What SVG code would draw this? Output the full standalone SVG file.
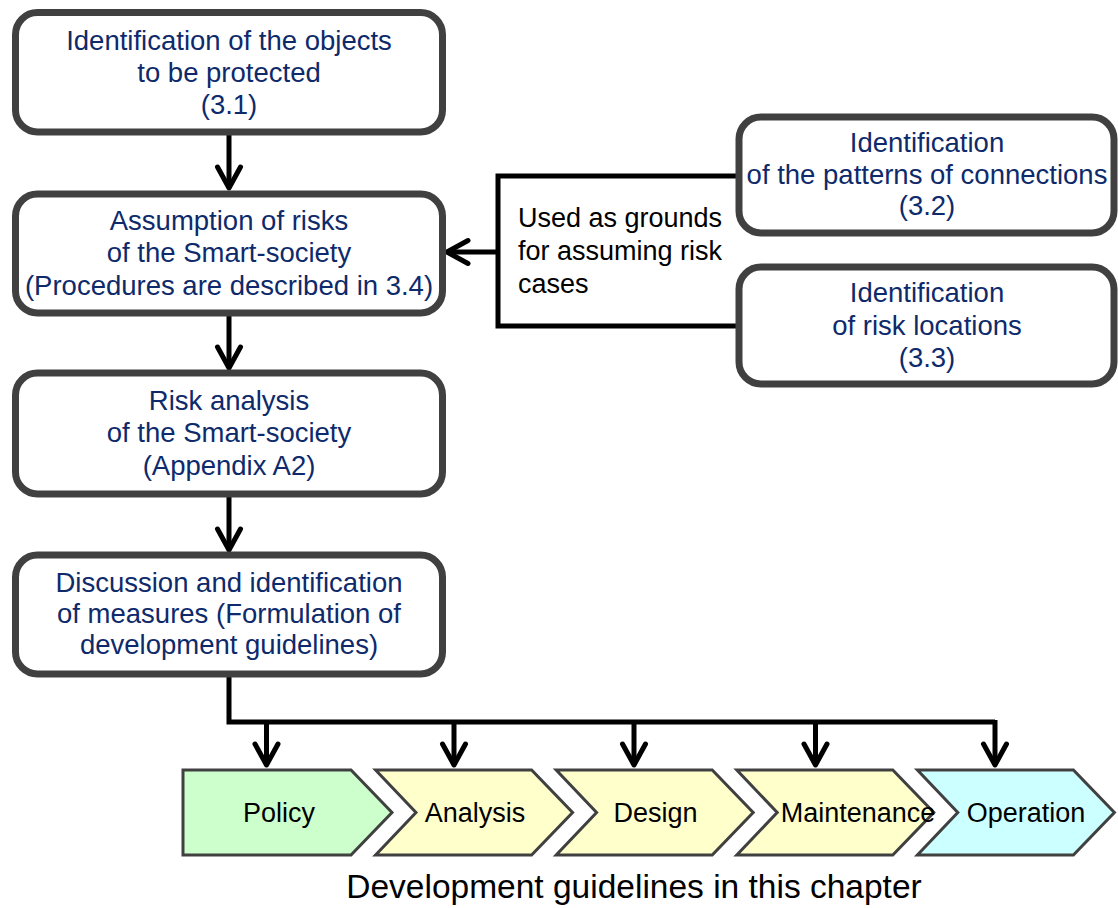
<svg xmlns="http://www.w3.org/2000/svg" width="1118" height="908" viewBox="0 0 1118 908">
<style>
.box{fill:#fff;stroke:#404040;stroke-width:7}
.t{font-family:"Liberation Sans",Arial,sans-serif;font-size:27.5px;fill:#0e2a6b;text-anchor:middle}
.lbl{font-family:"Liberation Sans",Arial,sans-serif;font-size:27px;fill:#000}
.ct{font-family:"Liberation Sans",Arial,sans-serif;font-size:27px;fill:#000;text-anchor:middle}
.cap{font-family:"Liberation Sans",Arial,sans-serif;font-size:33.5px;fill:#000;text-anchor:middle}
.chev{stroke:#404040;stroke-width:3}
.ln{fill:none;stroke:#000;stroke-width:5}
.ar{fill:none;stroke:#000;stroke-width:5;marker-end:url(#ah)}
</style>
<defs>
<marker id="ah" viewBox="0 0 28 28" refX="24" refY="14" markerWidth="28" markerHeight="28" markerUnits="userSpaceOnUse" orient="auto" overflow="visible">
<path d="M3 2.5 L24 14 L3 25.5" fill="none" stroke="#000" stroke-width="5" stroke-linejoin="round" stroke-linecap="round"/>
</marker>
</defs>
<rect width="1118" height="908" fill="#fff"/>
<g id="connectors">
<line class="ar" x1="229" y1="135" x2="229" y2="188"/>
<line class="ar" x1="229" y1="316" x2="229" y2="368"/>
<line class="ar" x1="229" y1="497" x2="229" y2="550"/>
<polyline class="ln" points="739,176 498,176 498,326 739,326"/>
<line class="ar" x1="498" y1="252" x2="447" y2="252"/>
<polyline class="ln" points="229,674 229,722 995,722"/>
<line class="ar" x1="266.5" y1="722" x2="266.5" y2="765"/>
<line class="ar" x1="454" y1="722" x2="454" y2="765"/>
<line class="ar" x1="634" y1="722" x2="634" y2="765"/>
<line class="ar" x1="815.5" y1="722" x2="815.5" y2="765"/>
<line class="ar" x1="995" y1="720" x2="995" y2="765"/>
<text class="lbl" x="518" y="227">Used as grounds</text>
<text class="lbl" x="518" y="260">for assuming risk</text>
<text class="lbl" x="518" y="293">cases</text>
</g>
<g id="n1">
<rect class="box" x="15.5" y="12.5" width="427" height="119.5" rx="22"/>
<text class="t" x="229" y="50">Identification of the objects</text>
<text class="t" x="229" y="82">to be protected</text>
<text class="t" x="229" y="114">(3.1)</text>
</g>
<g id="n2">
<rect class="box" x="15.5" y="194" width="427" height="119" rx="22"/>
<text class="t" x="229" y="230">Assumption of risks</text>
<text class="t" x="229" y="262">of the Smart-society</text>
<text class="t" x="229" y="295">(Procedures are described in 3.4)</text>
</g>
<g id="n3">
<rect class="box" x="15.5" y="373" width="427" height="121" rx="22"/>
<text class="t" x="229" y="410">Risk analysis</text>
<text class="t" x="229" y="442">of the Smart-society</text>
<text class="t" x="229" y="475">(Appendix A2)</text>
</g>
<g id="n4">
<rect class="box" x="15.5" y="555" width="427" height="119" rx="22"/>
<text class="t" x="229" y="592">Discussion and identification</text>
<text class="t" x="229" y="623">of measures (Formulation of</text>
<text class="t" x="229" y="654">development guidelines)</text>
</g>
<g id="n5">
<rect class="box" x="739" y="117" width="375" height="116" rx="22"/>
<text class="t" x="927" y="152">Identification</text>
<text class="t" x="927" y="184">of the patterns of connections</text>
<text class="t" x="927" y="215">(3.2)</text>
</g>
<g id="n6">
<rect class="box" x="739" y="267" width="375" height="117" rx="22"/>
<text class="t" x="927" y="302">Identification</text>
<text class="t" x="927" y="335">of risk locations</text>
<text class="t" x="927" y="367">(3.3)</text>
</g>
<g id="policy">
<path class="chev" fill="#ccffcc" d="M183 770 L351 770 L392 812.5 L351 855 L183 855 Z"/>
<text class="ct" x="279" y="822">Policy</text>
</g>
<g id="analysis">
<path class="chev" fill="#ffffcc" d="M375.6 770 L531.6 770 L572.6 812.5 L531.6 855 L375.6 855 L416 812.5 Z"/>
<text class="ct" x="475" y="822">Analysis</text>
</g>
<g id="design">
<path class="chev" fill="#ffffcc" d="M556.2 770 L712.2 770 L753.2 812.5 L712.2 855 L556.2 855 L596.6 812.5 Z"/>
<text class="ct" x="655.6" y="822">Design</text>
</g>
<g id="maintenance">
<path class="chev" fill="#ffffcc" d="M736.8 770 L892.8 770 L933.8 812.5 L892.8 855 L736.8 855 L777.2 812.5 Z"/>
<text class="ct" x="858" y="822">Maintenance</text>
</g>
<g id="operation">
<path class="chev" fill="#ccffff" d="M917.4 770 L1073.4 770 L1114.4 812.5 L1073.4 855 L917.4 855 L957.8 812.5 Z"/>
<text class="ct" x="1026" y="822">Operation</text>
</g>
<g id="caption">
<text class="cap" x="634" y="898">Development guidelines in this chapter</text>
</g>
</svg>
